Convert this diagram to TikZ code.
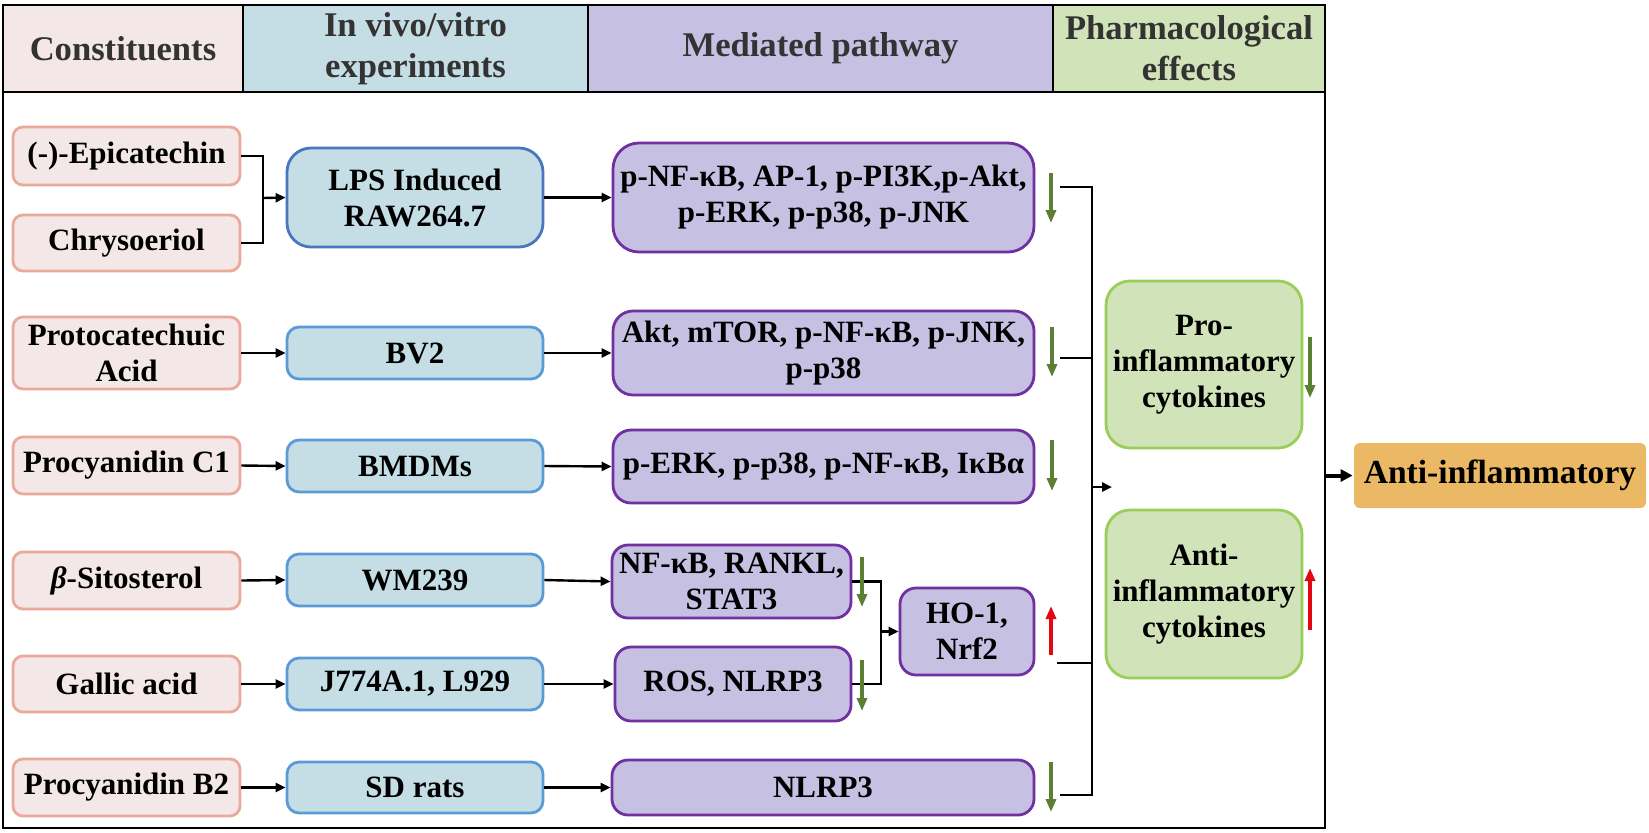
\documentclass[tikz,border=0pt]{standalone}
\usepackage{fontspec}
\setmainfont{Liberation Serif}
\usetikzlibrary{arrows.meta}
\definecolor{pinkfill}{HTML}{F3E7E7}
\definecolor{pinkdraw}{HTML}{EBA99C}
\definecolor{bluefill}{HTML}{C5DDE5}
\definecolor{bluedraw}{HTML}{5B9BD5}
\definecolor{bluedark}{HTML}{4A76C0}
\definecolor{purplefill}{HTML}{C6C1E2}
\definecolor{purpledraw}{HTML}{7030A0}
\definecolor{greenfill}{HTML}{D1E3B9}
\definecolor{greendraw}{HTML}{9ACD5A}
\definecolor{orangefill}{HTML}{EBB865}
\definecolor{arrowgreen}{HTML}{5B7F35}
\definecolor{arrowred}{HTML}{E30613}
\definecolor{hdrtext}{HTML}{333333}
\begin{document}
\begin{tikzpicture}[x=0.5pt,y=-0.5pt,
  sz/.style 2 args={minimum width=#1*0.5pt, minimum height=#2*0.5pt},
  base/.style={line width=1.4pt, inner sep=0pt, align=center,
    font=\bfseries\fontsize{15.5}{18}\selectfont, text=black},
  pinkbox/.style={base, fill=pinkfill, draw=pinkdraw, rounded corners=5pt},
  bluebox/.style={base, fill=bluefill, draw=bluedraw, rounded corners=6pt},
  purplebox/.style={base, fill=purplefill, draw=purpledraw, rounded corners=8pt},
  greenbox/.style={base, fill=greenfill, draw=greendraw, rounded corners=12pt},
  orangebox/.style={base, fill=orangefill, draw=none, rounded corners=3pt,
    font=\bfseries\fontsize{16.8}{20}\selectfont},
  hdr/.style={draw=black, line width=1pt, inner sep=0pt, align=center,
    font=\bfseries\fontsize{17.3}{20.5}\selectfont, text=hdrtext},
  wire/.style={line width=1.2pt, draw=black},
  conn/.style={wire, -{Triangle[length=5pt,width=4.5pt]}},
  bigconn/.style={line width=2pt, draw=black, -{Triangle[length=6pt,width=6pt]}},
  downg/.style={line width=1.6pt, draw=arrowgreen, -{Triangle[length=6.5pt,width=5pt]}},
  upr/.style={line width=1.6pt, draw=arrowred, -{Triangle[length=6.5pt,width=5pt]}}
]
\useasboundingbox (0,0) rectangle (1649,832);
\fill[white] (0,0) rectangle (1649,832);

% frame
\draw[line width=1pt] (3,5) rectangle (1325,828);

% header cells
\node[hdr, fill=pinkfill, sz={240}{87}] (h1) at (123,48.5) {Constituents};
\node[hdr, fill=bluefill, sz={345}{87}] (h2) at (415.5,48.5) {In vivo/vitro\\experiments};
\node[hdr, fill=purplefill, sz={465}{87}] (h3) at (820.5,48.5) {Mediated pathway};
\node[hdr, fill=greenfill, sz={272}{87}] (h4) at (1189,48.5) {Pharmacological\\effects};

% constituents
\node[pinkbox, sz={227}{58}] (epi) at (126.5,156) {(-)-Epicatechin};
\node[pinkbox, sz={227}{56}] (chr) at (126.5,243) {Chrysoeriol};
\node[pinkbox, sz={227}{72}] (pro) at (126.5,353) {Protocatechuic\\Acid};
\node[pinkbox, sz={227}{57}] (pc1) at (126.5,465.5) {Procyanidin C1};
\node[pinkbox, sz={227}{57}] (sit) at (126.5,580.5) {\textit{β}-Sitosterol};
\node[pinkbox, sz={227}{56}] (gal) at (126.5,684) {Gallic acid};
\node[pinkbox, sz={227}{57}] (pb2) at (126.5,787.5) {Procyanidin B2};

% experiments
\node[bluebox, draw=bluedark, rounded corners=12pt, sz={256}{99}] (lps) at (415,197.5) {LPS Induced\\RAW264.7};
\node[bluebox, sz={256}{52}] (bv2) at (415,353) {BV2};
\node[bluebox, sz={256}{52}] (bmd) at (415,466) {BMDMs};
\node[bluebox, sz={256}{52}] (wm) at (415,580) {WM239};
\node[bluebox, sz={256}{52}] (jl) at (415,684) {J774A.1, L929};
\node[bluebox, sz={256}{51}] (sd) at (415,787.5) {SD rats};

% pathways
\node[purplebox, rounded corners=13pt, sz={421}{109}] (p1) at (823.5,197.5) {p-NF-κB, AP-1, p-PI3K,p-Akt,\\p-ERK, p-p38, p-JNK};
\node[purplebox, rounded corners=10pt, sz={421}{84}] (p2) at (823.5,353) {Akt, mTOR, p-NF-κB, p-JNK,\\p-p38};
\node[purplebox, rounded corners=9pt, sz={421}{73}] (p3) at (823.5,466.5) {p-ERK, p-p38, p-NF-κB, IκBα};
\node[purplebox, sz={239}{73}] (p4) at (731.5,581.5) {NF-κB, RANKL,\\STAT3};
\node[purplebox, sz={236}{74}] (p5) at (733,684) {ROS, NLRP3};
\node[purplebox, sz={134}{87}] (ho) at (967,631.5) {HO-1,\\Nrf2};
\node[purplebox, sz={422}{55}] (p6) at (823,787.5) {NLRP3};

% effects
\node[greenbox, sz={196}{167}] (proc) at (1204,364.5) {Pro-\\inflammatory\\cytokines};
\node[greenbox, sz={196}{168}] (antic) at (1204,594) {Anti-\\inflammatory\\cytokines};
\node[orangebox, sz={292}{65}] (anti) at (1500,475.5) {Anti-inflammatory};

% row 1 connectors
\coordinate (j1) at (263,198);
\draw[wire] (epi.east) -- (263,156) -- (263,243) -- (chr.east);
\draw[conn] (j1) -- (lps.west);
\draw[conn] (lps.east) -- (p1.west);
% other rows
\draw[conn] (pro.east) -- (bv2.west);
\draw[conn] (bv2.east) -- (p2.west);
\draw[conn] (pc1.east) -- (bmd.west);
\draw[conn] (bmd.east) -- (p3.west);
\draw[conn] (sit.east) -- (wm.west);
\draw[conn] (wm.east) -- (p4.west);
\draw[conn] (gal.east) -- (jl.west);
\draw[conn] (jl.east) -- (p5.west);
\draw[conn] (pb2.east) -- (sd.west);
\draw[conn] (sd.east) -- (p6.west);

% merge NF / ROS -> HO-1
\coordinate (m1) at (881,631.5);
\draw[wire] (p4.east) -- (881,581.5) -- (881,684) -- (p5.east);
\draw[conn] (m1) -- (ho.west);

% indicator arrows
\draw[downg] (1051,173) -- (1051,223);
\draw[downg] (1052,327) -- (1052,377);
\draw[downg] (1052,440) -- (1052,491);
\draw[downg] (862,557) -- (862,607);
\draw[downg] (862,660) -- (862,711);
\draw[upr] (1051,655) -- (1051,606);
\draw[downg] (1051,762) -- (1051,812);
\draw[downg] (1310,337) -- (1310,398);
\draw[upr] (1310,630) -- (1310,568);

% bus
\coordinate (s1) at (1060,187);
\coordinate (s2) at (1060,358);
\coordinate (s3) at (1057,663);
\coordinate (s4) at (1060,795);
\coordinate (b0) at (1092,487);
\coordinate (b1) at (1112,487);
\draw[wire] (s1) -- (1092,187) -- (1092,795) -- (s4);
\draw[wire] (s2) -- (1092,358);
\draw[wire] (s3) -- (1092,663);
\draw[conn] (b0) -- (b1);

% final arrow
\coordinate (fe) at (1325,475.5);
\draw[bigconn] (fe) -- (anti.west);
\end{tikzpicture}
\end{document}
